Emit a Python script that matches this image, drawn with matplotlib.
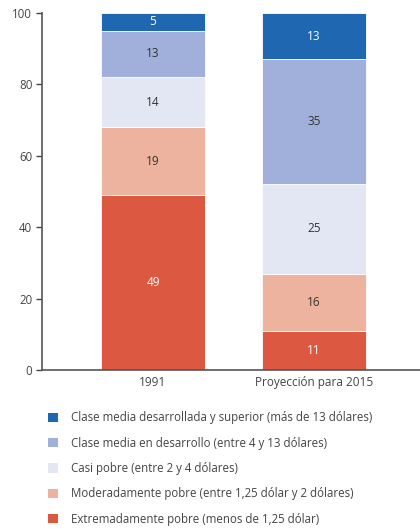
import matplotlib.pyplot as plt
import numpy as np
from matplotlib.patches import Patch

plt.rcParams['font.family'] = ['Open Sans', 'DejaVu Sans']

# data (percent of population)
groups = ["1991", "Proyección para 2015"]
categories = [
    "Extremadamente pobre (menos de 1,25 dólar)",
    "Moderadamente pobre (entre 1,25 dólar y 2 dólares)",
    "Casi pobre (entre 2 y 4 dólares)",
    "Clase media en desarrollo (entre 4 y 13 dólares)",
    "Clase media desarrollada y superior (más de 13 dólares)",
]
values_1991 = [49, 19, 14, 13, 5]
values_2015 = [11, 16, 25, 35, 13]
colors = ["#dc5840", "#edb39e", "#e3e7f4", "#a0b0db", "#1f68b1"]
text_colors = ["white", "#333333", "#333333", "#333333", "white"]

fig = plt.figure(figsize=(4.2, 5.29), dpi=100)
ax = fig.add_axes([0.1, 0.3006, 0.9, 0.675])

x = np.arange(len(groups))
width = 0.646
bottom = np.zeros(len(groups))
data = np.array([values_1991, values_2015]).T
for vals, col, tcol in zip(data, colors, text_colors):
    ax.bar(x, vals, width, bottom=bottom, color=col, edgecolor="white", linewidth=0.6)
    for xi, v, b in zip(x, vals, bottom):
        ax.text(xi, b + v / 2, str(v), ha="center", va="center",
                fontsize=8.5, color=tcol)
    bottom += vals

ax.set_xlim(-0.689, 1.658)
ax.set_ylim(0, 100)
ax.set_yticks([0, 20, 40, 60, 80, 100])
ax.set_xticks(x)
ax.set_xticklabels(groups)
ax.tick_params(axis="x", length=0, pad=4, labelsize=8.5, colors="#444444")
ax.tick_params(axis="y", length=4, width=1, pad=3, labelsize=8.3,
               colors="#444444")
for s in ["top", "right"]:
    ax.spines[s].set_visible(False)
ax.spines["left"].set_color("#555555")
ax.spines["bottom"].set_color("#555555")
ax.spines["left"].set_linewidth(1.2)
ax.spines["bottom"].set_linewidth(1.2)

handles = [Patch(facecolor=c, label=l) for c, l in zip(colors, categories)][::-1]
fig.legend(handles=handles, loc="upper left", bbox_to_anchor=(0.09, 0.242),
           frameon=False, fontsize=8.3, labelspacing=1.07,
           handlelength=0.85, handleheight=0.85, handletextpad=1.15,
           labelcolor="#444444")

fig.savefig("out.png", dpi=100)
